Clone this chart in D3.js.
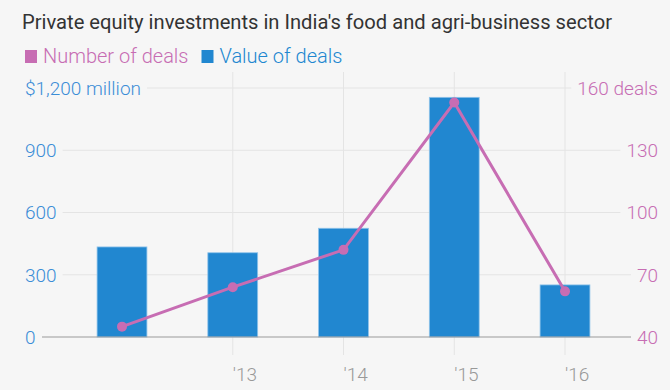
<!DOCTYPE html>
<html><head><meta charset="utf-8">
<script src="https://cdn.jsdelivr.net/npm/d3@7"></script>
<style>
html,body{margin:0;padding:0;background:#f6f6f6;}
text{font-family:Roboto,"Noto Sans",sans-serif;}
</style></head>
<body>
<svg id="c" width="670" height="390"></svg>
<script>
const categories = ["2012","2013","2014","2015","2016"];
const xTickLabels = ["", "'13","'14","'15","'16"];
const valueOfDeals = [434, 406, 524, 1155, 251];
const numberOfDeals = [45, 64, 82, 153, 62];
const leftTicks = [0,300,600,900,1200];
const leftTickLabels = ["0","300","600","900","$1,200 million"];
const rightTicks = [40,70,100,130,160];
const rightTickLabels = ["40","70","100","130","160 deals"];

const title = "Private equity investments in India's food and agri-business sector";
const legendItems = [{label:"Number of deals", color:"#c76db3"},{label:"Value of deals", color:"#2187d0"}];

const blue = "#2187d0", pink = "#c76db3";
const blueText = "#3b8dd6", pinkText = "#c76db3";

const svg = d3.select("#c");
svg.append("rect").attr("width",670).attr("height",390).attr("fill","#f6f6f6");

const x = d3.scalePoint().domain(categories).range([122,565]);
const yL = d3.scaleLinear().domain([0,1200]).range([337,88]);
const yR = d3.scaleLinear().domain([40,160]).range([337,88]);
const barW = x.step()*0.45;

// title
svg.append("text").attr("x",22).attr("y",29).attr("fill","#333")
  .style("font-size","20px").style("font-weight",400)
  .attr("textLength",590).attr("lengthAdjust","spacingAndGlyphs").text(title);

// legend
let lx = 25;
legendItems.forEach(it=>{
  svg.append("rect").attr("x",lx).attr("y",50).attr("width",12).attr("height",13).attr("fill",it.color);
  const t = svg.append("text").attr("x",lx+18).attr("y",63).attr("fill",it.color)
    .style("font-size","20px").style("font-weight",300).text(it.label);
  lx += 18 + t.node().getComputedTextLength() + 13;
});

// vertical gridlines
x.domain().forEach((c,i)=>{
  if(!xTickLabels[i]) return;
  svg.append("line").attr("x1",x(c)).attr("x2",x(c)).attr("y1",72).attr("y2",355)
    .attr("stroke","#e4e4e4").attr("stroke-width",1);
  svg.append("text").attr("x",x(c)).attr("y",381).attr("fill","#999")
    .style("font-size","19px").style("font-weight",300).text(xTickLabels[i]);
});

// left / right labels and gridlines
leftTicks.forEach((v,i)=>{
  const y = yL(v);
  const lt = svg.append("text").attr("x",25).attr("y",y).attr("dy","0.36em").attr("fill",blueText)
    .style("font-size","19px").style("font-weight",300).text(leftTickLabels[i]);
  const rt = svg.append("text").attr("x",658).attr("y",yR(rightTicks[i])).attr("dy","0.36em").attr("fill",pinkText)
    .attr("text-anchor","end").style("font-size","19px").style("font-weight",300).text(rightTickLabels[i]);
  const x1 = 25 + lt.node().getComputedTextLength() + 6;
  const x2 = 658 - rt.node().getComputedTextLength() - 6;
  if(i>0){
    svg.insert("line","text").attr("x1",x1).attr("x2",x2).attr("y1",y).attr("y2",y)
      .attr("stroke","#e4e4e4").attr("stroke-width",1);
  }
});

// bars
svg.append("g").selectAll("rect").data(categories).join("rect")
  .attr("x",d=>x(d)-barW/2).attr("width",barW)
  .attr("y",(d,i)=>yL(valueOfDeals[i])).attr("height",(d,i)=>yL(0)-yL(valueOfDeals[i]))
  .attr("fill",blue).attr("stroke","#8fc3ea").attr("stroke-width",0.8);

// baseline
svg.append("line").attr("x1",42).attr("x2",631).attr("y1",yL(0)).attr("y2",yL(0))
  .attr("stroke","#9a9a9a").attr("stroke-width",1.2);

// line
const line = d3.line().x((d,i)=>x(categories[i])).y(d=>yR(d));
svg.append("path").datum(numberOfDeals).attr("d",line).attr("fill","none")
  .attr("stroke",pink).attr("stroke-width",3);
svg.append("g").selectAll("circle").data(numberOfDeals).join("circle")
  .attr("cx",(d,i)=>x(categories[i])).attr("cy",d=>yR(d)).attr("r",5).attr("fill",pink);
</script>
</body></html>
